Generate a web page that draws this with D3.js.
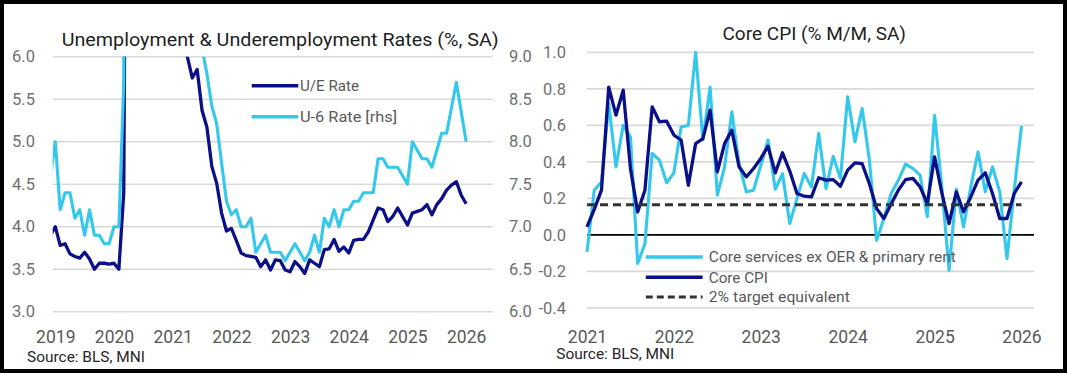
<!DOCTYPE html>
<html>
<head>
<meta charset="utf-8">
<script src="https://cdn.jsdelivr.net/npm/d3@7"></script>
<style>
  body { margin: 0; background: #fff; }
  text { font-family: Roboto, "Liberation Sans", Arial, sans-serif; }
</style>
</head>
<body>
<svg id="chart" width="1067" height="373"></svg>
<script>
// ---- left panel data: monthly, starting Dec 2018 (first point sits just outside the plot) ----
const ueStart = [2018, 12];
const ueRate = [3.9,
  4.0, 3.78, 3.8, 3.68, 3.65, 3.63, 3.7, 3.62, 3.5, 3.57, 3.57, 3.56,
  3.57, 3.5, 4.4, 14.7, 13.2, 11.0, 10.2, 8.4, 7.9, 6.9, 6.7, 6.7,
  6.4, 6.2, 6.1, 6.0, 5.75, 5.85, 5.37, 5.17, 4.71, 4.51, 4.16, 3.95,
  3.98, 3.84, 3.69, 3.66, 3.65, 3.64, 3.53, 3.61, 3.49, 3.61, 3.6, 3.49,
  3.47, 3.59, 3.53, 3.45, 3.61, 3.57, 3.53, 3.73, 3.74, 3.85, 3.71, 3.76,
  3.69, 3.84, 3.85, 3.85, 3.94, 4.08, 4.22, 4.2, 4.06, 4.12, 4.22, 4.12,
  4.02, 4.16, 4.18, 4.2, 4.26, 4.14, 4.26, 4.33, 4.43, 4.49, 4.53, 4.37,
  4.27];
const u6Rate = [7.6,
  8.0, 7.2, 7.4, 7.4, 7.1, 7.2, 6.9, 7.2, 6.9, 6.9, 6.8, 6.8,
  7.0, 7.0, 8.7, 22.8, 21.1, 18.0, 16.5, 14.2, 12.8, 12.1, 12.0, 11.7,
  11.1, 11.1, 10.7, 10.4, 10.2, 9.8, 9.1, 8.8, 8.42, 8.21, 7.75, 7.3,
  7.14, 7.2, 7.0, 7.0, 7.1, 6.7, 6.8, 6.9, 6.7, 6.7, 6.7, 6.6,
  6.7, 6.8, 6.7, 6.6, 6.7, 6.9, 6.7, 7.1, 7.0, 7.2, 7.0, 7.2,
  7.2, 7.3, 7.3, 7.4, 7.4, 7.4, 7.8, 7.8, 7.7, 7.7, 7.7, 7.6,
  7.5, 8.0, 7.9, 7.8, 7.8, 7.7, 7.9, 8.1, 8.1, 8.4, 8.7, 8.35,
  8.0];
const ueYears = [2019, 2020, 2021, 2022, 2023, 2024, 2025, 2026];
const ueTicks = [3.0, 3.5, 4.0, 4.5, 5.0, 5.5, 6.0];
const u6Ticks = [6.0, 6.5, 7.0, 7.5, 8.0, 8.5, 9.0];

// ---- right panel data: monthly, Jan 2021 .. Jan 2026 ----
const cpiStart = [2021, 1];
const superCore = [
  -0.093, 0.245, 0.29, 0.72, 0.373, 0.6, 0.537, -0.157, -0.048, 0.446, 0.41, 0.285,
  0.34, 0.592, 0.6, 1.0, 0.52, 0.81, 0.218, 0.373, 0.675, 0.39, 0.236, 0.245,
  0.38, 0.52, 0.25, 0.336, 0.062, 0.2, 0.336, 0.263, 0.556, 0.254, 0.43, 0.31,
  0.757, 0.51, 0.693, 0.41, -0.03, 0.09, 0.227, 0.3, 0.388, 0.364, 0.327, 0.1,
  0.656, 0.263, -0.194, 0.25, 0.044, 0.263, 0.455, 0.236, 0.373, 0.236, -0.13, 0.245,
  0.596];
const coreCpi = [
  0.044, 0.14, 0.245, 0.81, 0.656, 0.793, 0.364, 0.126, 0.245, 0.702, 0.62, 0.623,
  0.547, 0.52, 0.272, 0.5, 0.528, 0.684, 0.346, 0.5, 0.574, 0.373, 0.318, 0.364,
  0.419, 0.486, 0.34, 0.45, 0.35, 0.227, 0.212, 0.208, 0.313, 0.3, 0.303, 0.267,
  0.355, 0.395, 0.39, 0.28, 0.144, 0.09, 0.17, 0.245, 0.303, 0.31, 0.263, 0.172,
  0.428, 0.23, 0.062, 0.236, 0.126, 0.208, 0.3, 0.34, 0.227, 0.09, 0.09, 0.227,
  0.29];
const targetEquiv = 0.165;
const cpiYears = [2021, 2022, 2023, 2024, 2025, 2026];
const cpiTicks = [-0.4, -0.2, 0.0, 0.2, 0.4, 0.6, 0.8, 1.0];

const NAVY = "#0b0f88";
const CYAN = "#34c8ec";
const GRID = "#d9d9d9";
const TICK_COLOR = "#707070";
const LABEL_COLOR = "#595959";

// month offset from Jan of baseYear
function monthIndex(start, baseYear, i) {
    return (start[0] - baseYear) * 12 + (start[1] - 1) + i;
}

// plain hyphen for negatives, like the source chart
function oneDecimal(d) {
    return d.toFixed(1);
}

var svg = d3.select("#chart");
svg.append("rect").attr("width", 1067).attr("height", 373).attr("fill", "#fff");

function styleAxis(g, size, color) {
    g.select(".domain").remove();
    g.selectAll("text")
        .style("font-size", size + "px")
        .attr("fill", color);
}

// =================== LEFT PANEL ===================
var xL = d3.scaleLinear().domain([-0.53, 89.43]).range([52.7, 492.7]);
var yL = d3.scaleLinear().domain([3, 6]).range([311.7, 56.7]);
var yR = d3.scaleLinear().domain([6, 9]).range([311.7, 56.7]);

svg.append("g").selectAll("line")
    .data(ueTicks)
    .join("line")
    .attr("x1", xL.range()[0]).attr("x2", xL.range()[1])
    .attr("y1", d => yL(d)).attr("y2", d => yL(d))
    .attr("stroke", GRID).attr("stroke-width", 1.6);

svg.append("g").attr("transform", "translate(35,0)")
    .call(d3.axisLeft(yL).tickValues(ueTicks).tickFormat(oneDecimal).tickSize(0).tickPadding(0))
    .call(g => styleAxis(g, 16.5, TICK_COLOR));

svg.append("g").attr("transform", "translate(509,0)")
    .call(d3.axisRight(yR).tickValues(u6Ticks).tickFormat(oneDecimal).tickSize(0).tickPadding(0))
    .call(g => styleAxis(g, 16.5, TICK_COLOR));

svg.append("g").attr("transform", "translate(0,331)")
    .call(d3.axisBottom(xL).tickValues(ueYears.map(y => (y - 2019) * 12)).tickFormat(m => 2019 + m / 12).tickSize(0).tickPadding(0))
    .call(g => styleAxis(g, 17.5, LABEL_COLOR));

svg.append("clipPath").attr("id", "clipL")
    .append("rect")
    .attr("x", xL.range()[0]).attr("y", yL.range()[1])
    .attr("width", xL.range()[1] - xL.range()[0])
    .attr("height", yL.range()[0] - yL.range()[1]);

var gL = svg.append("g").attr("clip-path", "url(#clipL)");
var ueLine = d3.line()
    .x((d, i) => xL(monthIndex(ueStart, 2019, i)))
    .y(d => yL(d));
var u6Line = d3.line()
    .x((d, i) => xL(monthIndex(ueStart, 2019, i)))
    .y(d => yR(d));

gL.append("path").datum(ueRate)
    .attr("d", ueLine)
    .attr("fill", "none").attr("stroke", NAVY).attr("stroke-width", 3.3)
    .attr("stroke-linejoin", "round");
gL.append("path").datum(u6Rate)
    .attr("d", u6Line)
    .attr("fill", "none").attr("stroke", CYAN).attr("stroke-width", 3.1)
    .attr("stroke-linejoin", "round");

// legend
var legL = [
    {name: "U/E Rate", color: NAVY, y: 85.7, w: 59},
    {name: "U-6 Rate [rhs]", color: CYAN, y: 116.7, w: 97}
];
var lg = svg.append("g").selectAll("g").data(legL).join("g");
lg.append("line")
    .attr("x1", 251.7).attr("x2", 298.3)
    .attr("y1", d => d.y).attr("y2", d => d.y)
    .attr("stroke", d => d.color).attr("stroke-width", 3.5);
lg.append("text")
    .attr("x", 300).attr("y", d => d.y)
    .attr("dy", "0.35em")
    .attr("textLength", d => d.w).attr("lengthAdjust", "spacingAndGlyphs")
    .style("font-size", "15px").attr("fill", LABEL_COLOR)
    .text(d => d.name);

svg.append("text")
    .attr("x", 61.7).attr("y", 46)
    .attr("textLength", 437).attr("lengthAdjust", "spacingAndGlyphs")
    .style("font-size", "19px").attr("fill", "#1e1e1e")
    .text("Unemployment & Underemployment Rates (%, SA)");

svg.append("text")
    .attr("x", 27).attr("y", 362)
    .attr("textLength", 118).attr("lengthAdjust", "spacingAndGlyphs")
    .style("font-size", "14.5px").attr("fill", "#262626")
    .text("Source: BLS, MNI");

// =================== RIGHT PANEL ===================
var xC = d3.scaleLinear().domain([0, 61.73]).range([587, 1034]);
var yC = d3.scaleLinear().domain([-0.4, 1.0]).range([307.9, 52.4]);

svg.append("g").selectAll("line")
    .data(cpiTicks.filter(d => d !== 0))
    .join("line")
    .attr("x1", xC.range()[0]).attr("x2", xC.range()[1])
    .attr("y1", d => yC(d)).attr("y2", d => yC(d))
    .attr("stroke", GRID).attr("stroke-width", 1.6);

svg.append("line")
    .attr("x1", xC.range()[0]).attr("x2", xC.range()[1])
    .attr("y1", yC(0)).attr("y2", yC(0))
    .attr("stroke", "#000").attr("stroke-width", 1.6);

svg.append("g").attr("transform", "translate(566,0)")
    .call(d3.axisLeft(yC).tickValues(cpiTicks).tickFormat(oneDecimal).tickSize(0).tickPadding(0))
    .call(g => styleAxis(g, 16.5, TICK_COLOR));

svg.append("g").attr("transform", "translate(0,331)")
    .call(d3.axisBottom(xC).tickValues(cpiYears.map(y => (y - 2021) * 12)).tickFormat(m => 2021 + m / 12).tickSize(0).tickPadding(0))
    .call(g => styleAxis(g, 17.5, LABEL_COLOR));

var cpiLine = d3.line()
    .x((d, i) => xC(monthIndex(cpiStart, 2021, i)))
    .y(d => yC(d));

svg.append("path").datum(superCore)
    .attr("d", cpiLine)
    .attr("fill", "none").attr("stroke", CYAN).attr("stroke-width", 3.1)
    .attr("stroke-linejoin", "round");
svg.append("path").datum(coreCpi)
    .attr("d", cpiLine)
    .attr("fill", "none").attr("stroke", NAVY).attr("stroke-width", 3.3)
    .attr("stroke-linejoin", "round");
svg.append("path").datum(coreCpi.map(() => targetEquiv))
    .attr("d", cpiLine)
    .attr("fill", "none").attr("stroke", "#333").attr("stroke-width", 3)
    .attr("stroke-dasharray", "8,5");

var legC = [
    {name: "Core services ex OER & primary rent", color: CYAN, y: 257, w: 247, dash: null},
    {name: "Core CPI", color: NAVY, y: 277.3, w: 59, dash: null},
    {name: "2% target equivalent", color: "#333", y: 297, w: 141, dash: "7,4"}
];
var lc = svg.append("g").selectAll("g").data(legC).join("g");
lc.append("line")
    .attr("x1", 645.8).attr("x2", 702.6)
    .attr("y1", d => d.y).attr("y2", d => d.y)
    .attr("stroke", d => d.color).attr("stroke-width", d => d.dash ? 3 : 3.6)
    .attr("stroke-dasharray", d => d.dash);
lc.append("text")
    .attr("x", 708.8).attr("y", d => d.y)
    .attr("dy", "0.35em")
    .attr("textLength", d => d.w).attr("lengthAdjust", "spacingAndGlyphs")
    .style("font-size", "15.5px").attr("fill", LABEL_COLOR)
    .text(d => d.name);

svg.append("text")
    .attr("x", 722.5).attr("y", 39.5)
    .attr("textLength", 183.5).attr("lengthAdjust", "spacingAndGlyphs")
    .style("font-size", "19px").attr("fill", "#1e1e1e")
    .text("Core CPI (% M/M, SA)");

svg.append("text")
    .attr("x", 556.3).attr("y", 359)
    .attr("textLength", 118).attr("lengthAdjust", "spacingAndGlyphs")
    .style("font-size", "14.5px").attr("fill", "#262626")
    .text("Source: BLS, MNI");

// frame
svg.append("rect")
    .attr("x", 2).attr("y", 2).attr("width", 1063).attr("height", 369)
    .attr("fill", "none").attr("stroke", "#000").attr("stroke-width", 4);
</script>
</body>
</html>
